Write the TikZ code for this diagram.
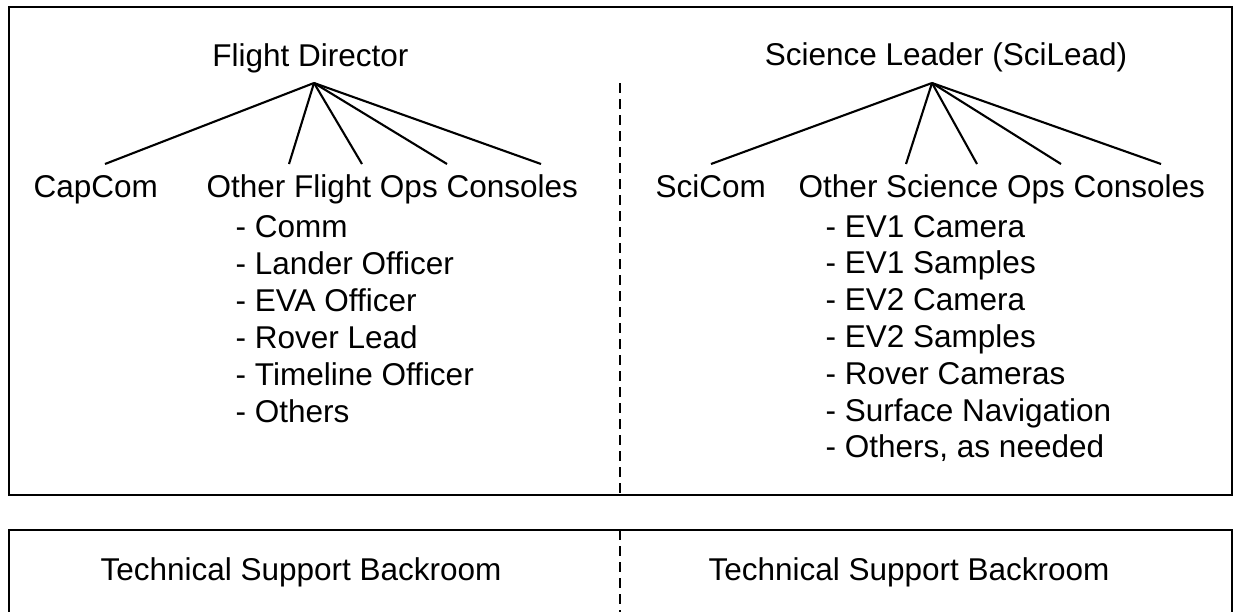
\documentclass[tikz,border=0pt]{standalone}
\usepackage{fontspec}
\setmainfont{Liberation Sans}
\begin{document}
\begin{tikzpicture}[x=1pt,y=-1pt,
  frame/.style={draw=black,line width=2.4pt},
  tree/.style={draw=black,line width=2.1pt},
  divider/.style={draw=black,line width=2pt,dash pattern=on 10pt off 6pt},
  lbl/.style={inner sep=0pt,font=\fontsize{31.5}{37}\selectfont},
]
\useasboundingbox (0,0) rectangle (1233,611);
% frames
\draw[frame] (9,7) rectangle (1232,495);
\draw[frame] (9,640) -- (9,530) -- (1232,530) -- (1232,640);
% dividers
\coordinate (dtop) at (620,83);
\coordinate (dbot) at (620,495);
\coordinate (dtop2) at (620,530);
\coordinate (dbot2) at (620,640);
\draw[divider] (dtop) -- (dbot);
\draw[divider] (dtop2) -- (dbot2);
% titles
\node[lbl,anchor=base] (fd) at (310.5,66) {Flight Director};
\node[lbl,anchor=base] (sl) at (946,65) {Science Leader (SciLead)};
% children
\node[lbl,anchor=base west] (capcom) at (33.5,197) {CapCom};
\node[lbl,anchor=base west] (ofo) at (206.5,197) {Other Flight Ops Consoles};
\node[lbl,anchor=base west] (scicom) at (655.5,197) {SciCom};
\node[lbl,anchor=base west] (oso) at (798.5,197) {Other Science Ops Consoles};
% hubs and line ends
\coordinate (fdhub) at (314,83);
\coordinate (f1) at (105,164);
\coordinate (f2) at (289,164);
\coordinate (f3) at (362,164);
\coordinate (f4) at (447,164);
\coordinate (f5) at (541,164);
\coordinate (slhub) at (932,83);
\coordinate (s1) at (711,164);
\coordinate (s2) at (906,164);
\coordinate (s3) at (977,164);
\coordinate (s4) at (1061,164);
\coordinate (s5) at (1161,164);
\foreach \e in {f1,f2,f3,f4,f5} \draw[tree] (fdhub) -- (\e);
\foreach \e in {s1,s2,s3,s4,s5} \draw[tree] (slhub) -- (\e);
% lists
\foreach \t [count=\i from 0] in {Comm,Lander Officer,EVA Officer,Rover Lead,Timeline Officer,Others}
  \node[lbl,anchor=base west] (fl\i) at (235.5,237+37*\i) {- \t};
\foreach \t [count=\i from 0] in {EV1 Camera,EV1 Samples,EV2 Camera,EV2 Samples,Rover Cameras,Surface Navigation,{Others, as needed}}
  \node[lbl,anchor=base west] (sl\i) at (825.5,237+36.8*\i) {- \t};
% backrooms
\node[lbl,anchor=base] (tsb1) at (301,580) {Technical Support Backroom};
\node[lbl,anchor=base] (tsb2) at (909,580) {Technical Support Backroom};
\end{tikzpicture}
\end{document}
